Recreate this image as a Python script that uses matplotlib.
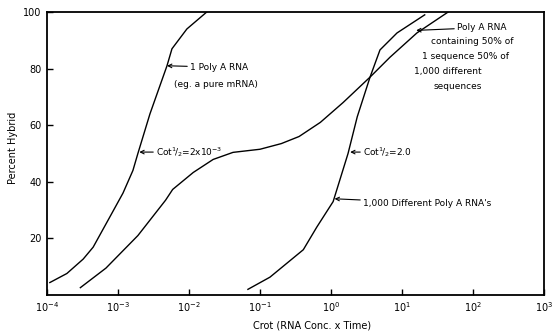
import numpy as np
import matplotlib
matplotlib.use("Agg")
import matplotlib.pyplot as plt

# Curve 1: single Poly A RNA (log10 Crot, percent hybrid)
c1_logx = [-3.96, -3.72, -3.49, -3.35, -3.11, -2.93, -2.79, -2.72, -2.55, -2.31, -2.24, -2.03, -1.75]
c1_pct = [4.4, 7.6, 12.7, 16.9, 27.8, 36, 44, 50, 64, 81, 87, 94, 100]

# Curve 2: 50% of 1 sequence, 50% of 1,000 different sequences
c2_logx = [-3.53, -3.17, -2.72, -2.33, -2.23, -1.94, -1.66, -1.38, -1.0, -0.7, -0.45, -0.15, 0.17, 0.55, 0.83, 1.21, 1.65]
c2_pct = [2.6, 9.5, 21, 33.5, 37.3, 43.3, 47.9, 50.4, 51.5, 53.5, 56, 61, 68, 77, 84, 92.6, 100]

# Curve 3: 1,000 different Poly A RNAs
c3_logx = [-1.17, -0.86, -0.39, -0.2, 0.03, 0.24, 0.37, 0.55, 0.69, 0.93, 1.32]
c3_pct = [2, 6.3, 16, 24, 33, 50, 63, 77, 86.6, 92.6, 99]

xticks = [1e-4, 1e-3, 1e-2, 1e-1, 1e0, 1e1, 1e2, 1e3]
xtick_labels = [r"$10^{-4}$", r"$10^{-3}$", r"$10^{-2}$", r"$10^{-1}$",
                r"$10^{0}$", r"$10^{1}$", r"$10^{2}$", r"$10^{3}$"]
yticks = [20, 40, 60, 80, 100]

plt.rcParams['font.family'] = ['DejaVu Sans']
plt.rcParams['mathtext.default'] = 'regular'

fig = plt.figure(figsize=(5.55, 3.34), dpi=100)
ax = fig.add_axes([47/555, 1-295/334, (544-47)/555, (295-12)/334])

for lx, p in [(c1_logx, c1_pct), (c2_logx, c2_pct), (c3_logx, c3_pct)]:
    ax.plot(10**np.array(lx), p, color='black', lw=1.0)

ax.set_xscale('log')
ax.set_xlim(1e-4, 1e3)
ax.set_ylim(0, 100)
ax.set_xticks(xticks)
ax.set_xticklabels(xtick_labels)
ax.minorticks_off()
ax.set_yticks(yticks)
ax.tick_params(direction='in', length=4, width=1, labelsize=7, pad=4)
for s in ax.spines.values():
    s.set_linewidth(1.3)

fs = 6.5
arrow = dict(arrowstyle='->', color='black', lw=0.8, shrinkA=0, shrinkB=0)
ax.annotate("1 Poly A RNA", xy=(10**-2.31, 81), xytext=(10**(-4+(190-47)/71), 80.5),
            fontsize=fs, va='center', arrowprops=arrow)
ax.text(10**(-4+(174-47)/71), 74.5, "(eg. a pure mRNA)", fontsize=fs, va='center')
ax.annotate(r"Cot$^{1}\!/_{2}$=2x10$^{-3}$", xy=(10**-2.70, 50.5), xytext=(10**(-4+(156-47)/71), 50.5),
            fontsize=fs, va='center', arrowprops=arrow)
ax.annotate(r"Cot$^{1}\!/_{2}$=2.0", xy=(10**0.27, 50.5), xytext=(10**(-4+(363-47)/71), 50.5),
            fontsize=fs, va='center', arrowprops=arrow)
ax.annotate("1,000 Different Poly A RNA's", xy=(10**0.05, 34), xytext=(10**(-4+(363-47)/71), 32.5),
            fontsize=fs, va='center', arrowprops=arrow)
ax.annotate("Poly A RNA", xy=(10**1.2, 93.5), xytext=(10**(-4+(457-47)/71), 94.5),
            fontsize=fs, va='center', arrowprops=arrow)
ax.text(10**(-4+(472-47)/71), 89.5, "containing 50% of", fontsize=fs, va='center', ha='center')
ax.text(10**(-4+(465-47)/71), 84.3, "1 sequence 50% of", fontsize=fs, va='center', ha='center')
ax.text(10**(-4+(448-47)/71), 78.9, "1,000 different", fontsize=fs, va='center', ha='center')
ax.text(10**(-4+(458-47)/71), 73.6, "sequences", fontsize=fs, va='center', ha='center')

fig.text(312/555, 1-325/334, "Crot (RNA Conc. x Time)", fontsize=7, ha='center', va='center')
fig.text(13/555, 1-148/334, "Percent Hybrid", fontsize=7, ha='center', va='center', rotation=90)

fig.savefig("out.png", dpi=100)
